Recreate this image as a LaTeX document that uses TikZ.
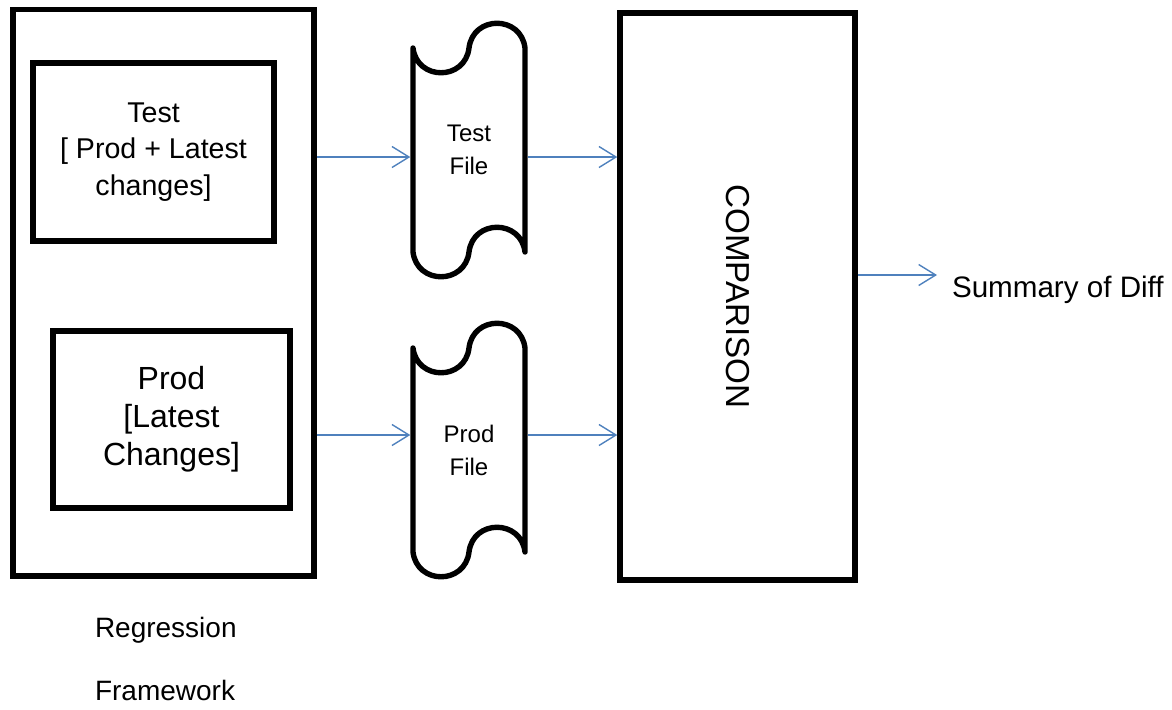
\documentclass[tikz,border=0pt]{standalone}
\usepackage{fontspec}
\setmainfont{Liberation Sans}
\usetikzlibrary{arrows.meta}
\definecolor{flowblue}{HTML}{4F81BD}

\begin{document}
\begin{tikzpicture}[x=0.5pt,y=-0.5pt,
  box/.style={draw,line width=2.7pt,inner sep=0pt},
  tapeline/.style={line width=2.7pt,line join=round},
  flow/.style={draw=flowblue,line width=0.7pt,
    -{Straight Barb[length=8.5pt,width=10.5pt]}},
  plain/.style={inner sep=0pt,outer sep=0pt,align=center}]

\useasboundingbox (0,0) rectangle (1172,709);

% Regression framework and its two runs
\node[box,minimum width=150.5pt,minimum height=283.25pt]
  (framework) at (163.5,292.75) {};

\node[box,minimum width=120.5pt,minimum height=89pt,align=center,
  font=\fontsize{14.3}{18.25}\selectfont]
  (testbox) at (153.5,152) {Test\\{[} Prod + Latest\\changes]};

\node[box,minimum width=118.5pt,minimum height=88.5pt,align=center,
  font=\fontsize{16}{19}\selectfont]
  (prodbox) at (171.5,419.5) {Prod\\{[}Latest\\Changes]};

\node[plain,align=left,anchor=west,font=\fontsize{14}{31.5}\selectfont]
  (fwlabel) at (95,659) {Regression\\Framework};

% Output files (punched tape)
\node[plain,minimum width=56pt,minimum height=102pt,
  font=\fontsize{12}{16.5}\selectfont]
  (testfile) at (469,150) {Test\\File};

\node[plain,minimum width=56pt,minimum height=102pt,
  font=\fontsize{12}{16.5}\selectfont]
  (prodfile) at (469,450) {Prod\\File};

\foreach \tp in {testfile,prodfile}
  \draw[tapeline,shift={(\tp.north west)}]
    (0,0) .. controls (4,33) and (52,33) .. (56,0)
    .. controls (60,-33) and (108,-33) .. (112,0)
    -- (112,204)
    .. controls (108,171) and (60,171) .. (56,204)
    .. controls (52,237) and (4,237) .. (0,204)
    -- cycle;

% Comparison step
\node[box,minimum width=117.5pt,minimum height=283.5pt]
  (comparison) at (737.5,296.5) {};

\node[plain,rotate=-90,font=\fontsize{16.6}{20}\selectfont]
  (complabel) at (comparison.center) {COMPARISON};

\node[plain,anchor=base west,font=\fontsize{14.8}{18}\selectfont]
  (summary) at (952,297) {Summary of Diff};

% Flow between the steps
\coordinate (testrow) at (0,157);
\coordinate (prodrow) at (0,435);
\coordinate (sumrow) at (0,275);

\draw[flow,shorten >=1.35pt]
  (framework.east |- testrow) -- (testfile.west |- testrow);
\draw[flow,shorten <=1.35pt]
  (testfile.east |- testrow) -- (comparison.west |- testrow);

\draw[flow,shorten >=1.35pt]
  (framework.east |- prodrow) -- (prodfile.west |- prodrow);
\draw[flow,shorten <=1.35pt]
  (prodfile.east |- prodrow) -- (comparison.west |- prodrow);

\draw[flow,shorten >=7.5pt]
  (comparison.east |- sumrow) -- (summary.west |- sumrow);

\end{tikzpicture}
\end{document}
